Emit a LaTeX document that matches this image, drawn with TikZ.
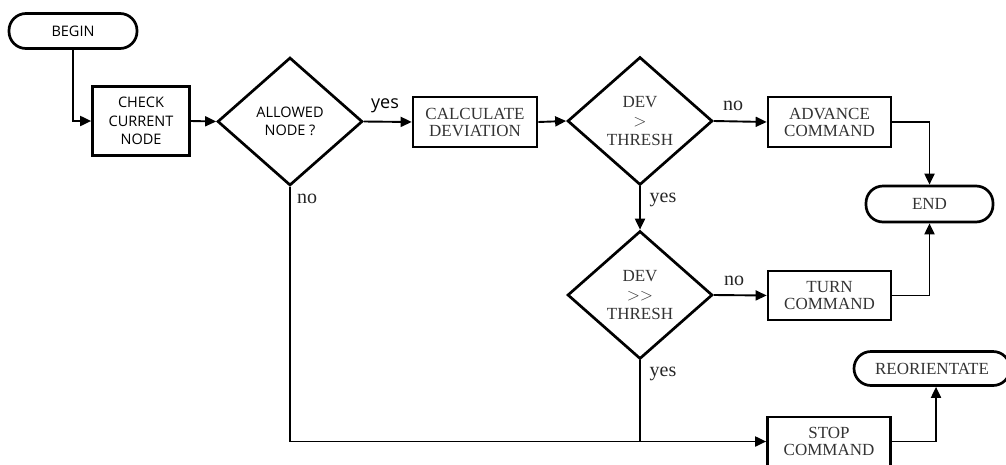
\documentclass[tikz,border=0pt]{standalone}
\usepackage{fontspec}
\setmainfont{Liberation Serif}
\newfontfamily\sansf{Open Sans}
\usetikzlibrary{shapes.geometric,arrows.meta}
\tikzset{
  sans/.style={font=\sansf\fontsize{14.5}{18.5}\selectfont, text=black},
  serif/.style={font=\fontsize{17}{17}\selectfont, text=black!80},
  dserif/.style={font=\fontsize{17}{19}\selectfont, text=black!80},
  procbox/.style={draw, line width=2.7pt, rectangle, align=center, inner sep=0pt},
  termbox/.style={draw, line width=2.7pt, rectangle, rounded corners=17pt, align=center, inner sep=0pt},
  decbox/.style={draw, line width=2.7pt, diamond, align=center, inner sep=0pt, minimum width=145pt, minimum height=128pt},
  conn/.style={line width=1.9pt},
  arr/.style={conn, -{Triangle[length=11pt,width=10pt]}},
  lab/.style={font=\fontsize{20}{22}\selectfont, text=black!85, inner sep=0pt},
  slab/.style={font=\sansf\fontsize{18}{20}\selectfont, text=black, inner sep=0pt},
}
\begin{document}
\begin{tikzpicture}[x=1pt,y=-1pt]
\useasboundingbox (0,0) rectangle (1006,464);
\node[termbox, sans, minimum width=128pt, minimum height=35pt] (begin) at (73,31) {BEGIN};
\node[procbox, sans, minimum width=97pt, minimum height=69pt] (check) at (141,121) {CHECK\\CURRENT\\NODE};
\node[decbox, sans] (allowed) at (290,121.5) {ALLOWED\\NODE ?};
\node[procbox, serif, minimum width=124pt, minimum height=50pt] (calc) at (475,122) {CALCULATE\\DEVIATION};
\node[decbox, dserif] (dev1) at (640,121) {DEV\\$>$\\THRESH};
\node[procbox, serif, minimum width=123pt, minimum height=50pt] (adv) at (829.5,122) {ADVANCE\\COMMAND};
\node[termbox, serif, minimum width=127pt, minimum height=36pt] (end) at (929.5,204) {END};
\node[decbox, dserif] (dev2) at (640,295) {DEV\\$>>$\\THRESH};
\node[procbox, serif, minimum width=123pt, minimum height=49pt] (turn) at (829.5,295.5) {TURN\\COMMAND};
\node[procbox, serif, minimum width=123pt, minimum height=49pt] (stop) at (829,441.5) {STOP\\COMMAND};
\node[termbox, serif, minimum width=156pt, minimum height=34pt] (reor) at (932,368.5) {REORIENTATE};

\draw[arr] (begin.south) |- (check.west);
\draw[arr] (check.east) -- (allowed.west);
\draw[arr] (allowed.east) -- (calc.west);
\draw[arr] (calc.east) -- (dev1.west);
\draw[arr] (dev1.east) -- (adv.west);
\draw[arr] (adv.east) -| (end.north);
\draw[arr] (dev1.south) -- (dev2.north);
\draw[arr] (dev2.east) -- (turn.west);
\draw[arr] (turn.east) -| (end.south);
\draw[arr] (allowed.south) |- (stop.west);
\draw[conn] (dev2.south) -- (dev2.south |- stop.west);
\draw[arr] (stop.east) -| ([xshift=4pt]reor.south);

\node[slab] (yes1) at (385,106) {yes};
\node[lab] (no1) at (307,199) {no};
\node[lab] (no2) at (733,106) {no};
\node[lab] (yes2) at (663,200) {yes};
\node[lab] (no3) at (734,281) {no};
\node[lab] (yes3) at (663,374) {yes};
\end{tikzpicture}
\end{document}
